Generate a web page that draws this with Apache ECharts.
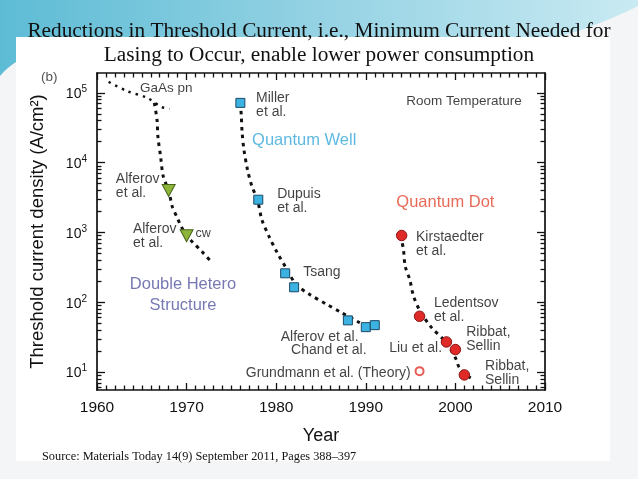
<!DOCTYPE html>
<html><head><meta charset="utf-8">
<script src="https://cdn.jsdelivr.net/npm/echarts@6/dist/echarts.min.js"></script>
<style>
html,body{margin:0;padding:0;width:638px;height:479px;overflow:hidden;background:#f3f5f6;}
#bg{position:absolute;left:0;top:0;}
#chart{position:absolute;left:0;top:0;width:638px;height:479px;}
</style></head><body>
<svg id="bg" width="638" height="479">
<defs><linearGradient id="sw" x1="0" y1="0" x2="1" y2="0">
<stop offset="0" stop-color="#5dbcd5"/><stop offset="0.45" stop-color="#8fd0e2"/><stop offset="1" stop-color="#c9eaf2"/></linearGradient></defs>
<rect width="638" height="479" fill="#f3f5f6"/>
<path d="M0,0 H638 V6 C610,20 580,32 545,40 L16,40 L16,62 C10,66 5,70 0,76 Z" fill="url(#sw)"/>
<rect x="16" y="37" width="594" height="424" fill="#ffffff"/>
</svg>
<div id="chart"></div>
<script>
// ---- data ----
const xTickYears = [1960, 1970, 1980, 1990, 2000, 2010];
const yMajorTicks = [10, 100, 1000, 10000, 100000];

const dhYears = [1968, 1970];
const dhValues = [4000, 900];
const qwYears = [1976, 1978, 1981, 1982, 1988, 1990, 1991];
const qwValues = [72000, 2950, 260, 164, 55, 44, 47];
const qdYears = [1994, 1996, 1999, 2000, 2001];
const qdValues = [906, 63, 27, 21, 9.1];
const theoryYears = [1996];
const theoryValues = [10.3];

const gaasTrendYears = [1961.3, 1963.3, 1965.6, 1967.2, 1968.1];
const gaasTrendValues = [144000, 107000, 85000, 63000, 59000];
const dhTrendYears = [1966.4, 1966.7, 1966.8, 1967.1, 1967.4, 1968.0, 1968.4, 1968.9, 1969.4, 1970.0, 1970.7, 1971.7, 1972.8];
const dhTrendValues = [72000, 41000, 23500, 12200, 6300, 4000, 2350, 1690, 1220, 906, 720, 535, 373];
const qwTrendYears = [1976.0, 1976.1, 1976.2, 1976.4, 1976.8, 1977.3, 1977.9, 1978.4, 1979.2, 1980.1, 1981.2, 1982.2, 1983.7, 1985.6, 1987.2, 1989.2, 1990.0];
const qwTrendValues = [72000, 48500, 26800, 15300, 7900, 4540, 2960, 1530, 877, 518, 296, 181, 130, 94, 72, 52, 47];
const qdTrendYears = [1993.9, 1994.2, 1994.4, 1994.9, 1995.3, 1996.0, 1997.3, 1998.9, 2000.0, 2000.4, 2001.2, 2002.0];
const qdTrendValues = [906, 571, 327, 213, 126, 77, 44, 27, 16, 11.8, 9, 7.9];

const annoTexts = ['GaAs pn', 'Miller\net al.', 'Room Temperature', 'Quantum Well', 'Alferov\net al.',
  'Dupuis\net al.', 'Alferov \net al.', 'cw', 'Quantum Dot', 'Kirstaedter\net al.', 'Double Hetero\nStructure',
  'Tsang', 'Ledentsov\net al.', 'Ribbat,\nSellin', 'Liu et al.', 'Alferov et al.', 'Chand et al.',
  'Grundmann et al. (Theory)', 'Ribbat,\nSellin '];
const annoYears = [1964.8, 1977.75, 1994.5, 1977.3, 1962.1, 1980.1, 1964.0, 1971.0, 1993.4, 1995.6, 1969.6,
  1983.0, 1997.6, 2001.2, 1992.6, 1980.5, 1981.65, 1976.6, 2003.3];
const annoValues = [118000, 66000, 77000, 20500, 4570, 2780, 892, 950, 2650, 673, 129,
  272, 77.4, 29.2, 22.1, 31.8, 20.7, 9.68, 9.68];

// ---- styling ----
const Y_MIN = 5.53, Y_MAX = 193000;
const SANS = '"Liberation Sans", Arial, sans-serif';
const SERIF = '"Liberation Serif", "Times New Roman", serif';
const INK = '#111';
const yMinorTicks = [];
for (let e = 0; e <= 5; e++) for (let m = 2; m <= 9; m++) yMinorTicks.push(m * Math.pow(10, e));

const zip = (a, b) => a.map((v, i) => [v, b[i]]);
const annoStyle = {
  'GaAs pn': {fontSize: 13.5},
  'Room Temperature': {fontSize: 13.5},
  'Quantum Well': {fontSize: 16.5, color: '#36a8da'},
  'Quantum Dot': {fontSize: 16.5, color: '#e2452d'},
  'Double Hetero\nStructure': {fontSize: 16.5, color: '#54569f', lineHeight: 21, position: 'inside', align: 'center'},
  'cw': {fontSize: 12.5}
};

function trend(xs, ys, w, dash) {
  return {type: 'line', data: zip(xs, ys), smooth: 0.3, symbol: 'none', silent: true, z: 2,
    lineStyle: {color: INK, width: w, type: dash}};
}
function markers(xs, ys, symbol, size, fill, stroke, extra) {
  return Object.assign({type: 'scatter', data: zip(xs, ys), symbol, symbolSize: size, z: 4,
    itemStyle: {color: fill, borderColor: stroke, borderWidth: 1, opacity: 1}}, extra || {});
}

const yBase = {type: 'log', logBase: 10, min: Y_MIN, max: Y_MAX, splitLine: {show: false},
  minorTick: {show: false}, minorSplitLine: {show: false}};
const tickLine = {color: INK, width: 1.3};
const yLabelFmt = v => '{b|10}{s|' + Math.round(Math.log10(v)) + '}';

const option = {
  animation: false,
  backgroundColor: 'transparent',
  title: [
    {text: 'Reductions in Threshold Current, i.e., Minimum Current Needed for\nLasing to Occur, enable lower power consumption',
      left: 'center', top: 14, textStyle: {fontFamily: SERIF, fontSize: 21.3, fontWeight: 'normal', lineHeight: 24, color: '#111'}},
    {text: 'Source: Materials Today 14(9) September 2011, Pages 388\u2013397', left: 37, top: 446,
      textStyle: {fontFamily: SERIF, fontSize: 12.3, fontWeight: 'normal', color: '#111'}},
    {text: '(b)', left: 36, top: 65, textStyle: {fontFamily: SANS, fontSize: 13.5, fontWeight: 'normal', color: '#555'}}
  ],
  grid: {left: 97, right: 93, top: 73, bottom: 89, containLabel: false},
  xAxis: [
    {type: 'value', position: 'bottom', min: xTickYears[0], max: xTickYears[xTickYears.length - 1], interval: 10,
      axisLine: {show: true, onZero: false, lineStyle: {color: INK, width: 1.7}},
      axisTick: {show: true, inside: true, length: 7, lineStyle: tickLine},
      minorTick: {show: true, splitNumber: 10, length: 4.5, lineStyle: tickLine},
      splitLine: {show: false},
      axisLabel: {show: true, fontFamily: SANS, fontSize: 15.5, color: INK, margin: 10, formatter: v => String(v)},
      name: 'Year', nameLocation: 'middle', nameGap: 37,
      nameTextStyle: {fontFamily: SANS, fontSize: 18, color: INK}},
    {type: 'value', position: 'top', min: xTickYears[0], max: xTickYears[xTickYears.length - 1], interval: 10,
      axisLine: {show: true, onZero: false, lineStyle: {color: INK, width: 1.7}},
      axisTick: {show: true, inside: true, length: 7, lineStyle: tickLine},
      minorTick: {show: true, splitNumber: 10, length: 4.5, lineStyle: tickLine},
      splitLine: {show: false}, axisLabel: {show: false}}
  ],
  yAxis: [
    Object.assign({}, yBase, {position: 'left',
      axisLine: {show: true, onZero: false, lineStyle: {color: INK, width: 1.7}},
      axisTick: {show: true, inside: true, length: 8, lineStyle: tickLine, customValues: yMajorTicks},
      axisLabel: {show: true, customValues: yMajorTicks, formatter: yLabelFmt, margin: 10, color: INK,
        rich: {b: {fontFamily: SANS, fontSize: 14, lineHeight: 17, color: INK, verticalAlign: 'bottom'},
               s: {fontFamily: SANS, fontSize: 10, lineHeight: 10, color: INK, verticalAlign: 'top'}}},
      name: 'Threshold current density (A/cm\u00b2)', nameLocation: 'middle', nameGap: 50,
      nameTextStyle: {fontFamily: SANS, fontSize: 18.5, color: INK}}),
    Object.assign({}, yBase, {position: 'left', axisLine: {show: false},
      axisTick: {show: true, inside: true, length: 4.5, lineStyle: tickLine, customValues: yMinorTicks},
      axisLabel: {show: false}}),
    Object.assign({}, yBase, {position: 'right',
      axisLine: {show: true, onZero: false, lineStyle: {color: INK, width: 1.7}},
      axisTick: {show: true, inside: true, length: 8, lineStyle: tickLine, customValues: yMajorTicks},
      axisLabel: {show: false}}),
    Object.assign({}, yBase, {position: 'right', axisLine: {show: false},
      axisTick: {show: true, inside: true, length: 4.5, lineStyle: tickLine, customValues: yMinorTicks},
      axisLabel: {show: false}})
  ],
  series: [
    trend(gaasTrendYears, gaasTrendValues, 2.4, [2.4, 5]),
    trend(dhTrendYears, dhTrendValues, 3, [3.5, 4.5]),
    trend(qwTrendYears, qwTrendValues, 3, [3.5, 4.5]),
    trend(qdTrendYears, qdTrendValues, 3, [3.5, 4.5]),
    markers(dhYears, dhValues, 'triangle', [13, 12], '#8cb53a', '#47651a', {symbolRotate: 180}),
    markers(qwYears, qwValues, 'rect', 9, '#3bb2e2', '#1b4a66'),
    markers(qdYears, qdValues, 'circle', 10.5, '#df2a28', '#8a1212'),
    markers(theoryYears, theoryValues, 'circle', 8, '#ffffff', '#e2332c', {itemStyle: {color: '#ffffff', borderColor: '#e2332c', borderWidth: 2}}),
    {type: 'scatter', symbolSize: 0.1, silent: true, z: 5, itemStyle: {color: 'rgba(0,0,0,0)'},
      data: annoTexts.map((t, i) => {
        const st = annoStyle[t] || {};
        return {value: [annoYears[i], annoValues[i]], name: t,
          label: {show: true, formatter: '{b}', position: st.position || 'right', distance: 0,
            align: st.align || 'left', verticalAlign: 'middle',
            fontFamily: SANS, fontSize: st.fontSize || 14, lineHeight: st.lineHeight || 14,
            color: st.color || '#111'}};
      })}
  ]
};
const chart = echarts.init(document.getElementById('chart'), null, {renderer: 'canvas'});
chart.setOption(option);
</script>
</body></html>
